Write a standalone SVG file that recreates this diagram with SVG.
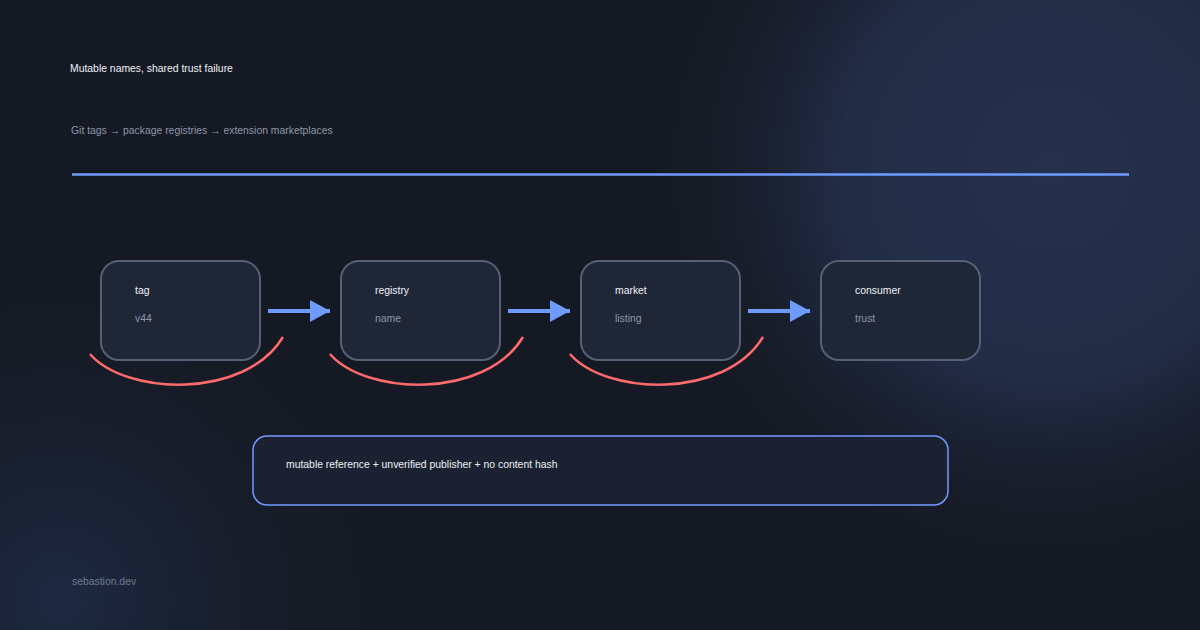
<svg xmlns="http://www.w3.org/2000/svg" width="1200" height="630" viewBox="0 0 1200 630">
<defs>
<radialGradient id="g1" cx="1050" cy="170" r="420" gradientUnits="userSpaceOnUse"><stop offset="0" stop-color="#25314d"/><stop offset="0.5" stop-color="#212c45"/><stop offset="1" stop-color="#151923" stop-opacity="0"/></radialGradient>
<radialGradient id="g2" cx="60" cy="600" r="380" gradientUnits="userSpaceOnUse"><stop offset="0" stop-color="#1e2a42"/><stop offset="1" stop-color="#151923" stop-opacity="0"/></radialGradient>
<marker id="ah" markerWidth="20" markerHeight="22" refX="20" refY="11" orient="auto" markerUnits="userSpaceOnUse"><path d="M0 0L20 11L0 22Z" fill="#6f9bff"/></marker>
</defs>
<style>
.box{fill:#1f2636;stroke:#566178;stroke-width:2}
.t{font-family:"Liberation Sans",Arial,sans-serif;font-size:10.4px;fill:#eef1f7}
.s{font-family:"Liberation Sans",Arial,sans-serif;font-size:10.4px;fill:#8d97aa}
.arc{fill:none;stroke:#ff6b6b;stroke-width:2.5}
.con{stroke:#6f9bff;stroke-width:4;fill:none}
</style>
<rect width="1200" height="630" fill="#151923"/>
<rect width="1200" height="630" fill="url(#g1)"/>
<rect width="1200" height="630" fill="url(#g2)"/>
<text x="70" y="72" class="t">Mutable names, shared trust failure</text>
<text x="71" y="134" class="s">Git tags → package registries → extension marketplaces</text>
<line x1="72" y1="174.5" x2="1129" y2="174.5" stroke="#6f9bff" stroke-width="2.5"/>
<g id="n-tag"><rect class="box" x="101" y="261" width="159" height="99" rx="18"/><text x="135" y="294" class="t">tag</text><text x="135" y="322" class="s">v44</text></g>
<g id="n-registry"><rect class="box" x="341" y="261" width="159" height="99" rx="18"/><text x="375" y="294" class="t">registry</text><text x="375" y="322" class="s">name</text></g>
<g id="n-market"><rect class="box" x="581" y="261" width="159" height="99" rx="18"/><text x="615" y="294" class="t">market</text><text x="615" y="322" class="s">listing</text></g>
<g id="n-consumer"><rect class="box" x="821" y="261" width="159" height="99" rx="18"/><text x="855" y="294" class="t">consumer</text><text x="855" y="322" class="s">trust</text></g>
<g id="connectors">
<line class="con" x1="268" y1="311" x2="330" y2="311" marker-end="url(#ah)"/>
<line class="con" x1="508" y1="311" x2="570" y2="311" marker-end="url(#ah)"/>
<line class="con" x1="748" y1="311" x2="810" y2="311" marker-end="url(#ah)"/>
<path class="arc" d="M90 354C125 395 245 400 283 337"/>
<path class="arc" d="M330 354C365 395 485 400 523 337"/>
<path class="arc" d="M570 354C605 395 725 400 763 337"/>
</g>
<g id="n-note"><rect x="253" y="436" width="695" height="69" rx="14" fill="#1b2130" stroke="#6f9bff" stroke-width="1.5"/><text x="286" y="468" class="t">mutable reference + unverified publisher + no content hash</text></g>
<text x="72" y="585" class="s" style="fill:#6f7a8e">sebastion.dev</text>
</svg>
